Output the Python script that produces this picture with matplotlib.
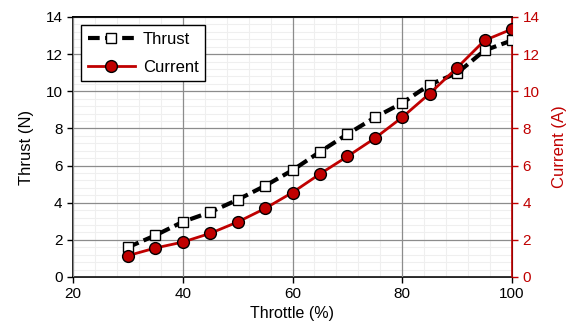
import matplotlib.pyplot as plt
from matplotlib.ticker import MultipleLocator

plt.rcParams['font.family'] = ['Liberation Sans', 'DejaVu Sans']

throttle = [30, 35, 40, 45, 50, 55, 60, 65, 70, 75, 80, 85, 90, 95, 100]
thrust = [1.6, 2.24, 2.97, 3.49, 4.16, 4.91, 5.75, 6.74, 7.69, 8.59, 9.37, 10.36, 10.98, 12.2, 12.74]
current = [1.15, 1.56, 1.88, 2.35, 2.96, 3.69, 4.55, 5.55, 6.49, 7.47, 8.6, 9.88, 11.27, 12.74, 13.35]

red = '#c00000'

fig = plt.figure(figsize=(5.74, 3.35), dpi=100)
ax = fig.add_axes([73 / 574, 58 / 335, 439 / 574, 260 / 335])
ax2 = ax.twinx()
ax2.xaxis.set_visible(True)

for a in (ax, ax2):
    a.set_xlim(20, 100)
    a.set_ylim(0, 14)
    a.xaxis.set_major_locator(MultipleLocator(20))
    a.xaxis.set_minor_locator(MultipleLocator(4))
    a.yaxis.set_major_locator(MultipleLocator(2))
    a.yaxis.set_minor_locator(MultipleLocator(0.4))

# minor grid on the back axes, major grid on the front one so it isn't cut
ax.grid(which='minor', color='#efefef', linewidth=0.8)
ax2.grid(which='major', color='#8c8c8c', linewidth=0.9)
ax2.set_axisbelow(True)

# both series on the front axes (same 0-14 scale on each side)
l1, = ax2.plot(throttle, thrust, color='black', linestyle=(0, (2.8, 1.3)), linewidth=3,
               marker='s', markersize=7.5, markerfacecolor='white', markeredgecolor='black',
               markeredgewidth=1, label='Thrust', zorder=3)
l2, = ax2.plot(throttle, current, color=red, linewidth=2,
               marker='o', markersize=8.5, markerfacecolor=red, markeredgecolor='black',
               markeredgewidth=1, label='Current', zorder=3)

ax.tick_params(which='minor', length=0)
ax.tick_params(which='major', direction='out', length=4, width=1, labelsize=11, colors='black')
ax2.tick_params(which='major', direction='out', length=4, width=1, labelsize=11, colors=red)
ax2.tick_params(which='minor', length=0)
ax2.tick_params(axis='x', which='both', bottom=False, top=False, labelbottom=False, labeltop=False)

for s in ['left', 'bottom', 'top']:
    ax.spines[s].set_linewidth(1.2)
ax2.spines['right'].set_color(red)
ax2.spines['right'].set_linewidth(1.2)
ax2.spines['left'].set_visible(False)
ax2.spines['top'].set_linewidth(1.2)
ax2.spines['bottom'].set_visible(False)

ax.set_xlabel('Throttle (%)', fontsize=11.5, labelpad=3)
ax.set_ylabel('Thrust (N)', fontsize=12, labelpad=8)
ax2.set_ylabel('Current (A)', fontsize=12, color=red, labelpad=9)

leg = ax2.legend(handles=[l1, l2], loc='upper left', fontsize=12, frameon=True, fancybox=False,
                 edgecolor='black', framealpha=1, handlelength=2.8, borderpad=0.4,
                 bbox_to_anchor=(0.0, 1.0), labelspacing=0.75, handletextpad=0.5)
leg.get_frame().set_linewidth(1)

fig.savefig('out.png', dpi=100)
